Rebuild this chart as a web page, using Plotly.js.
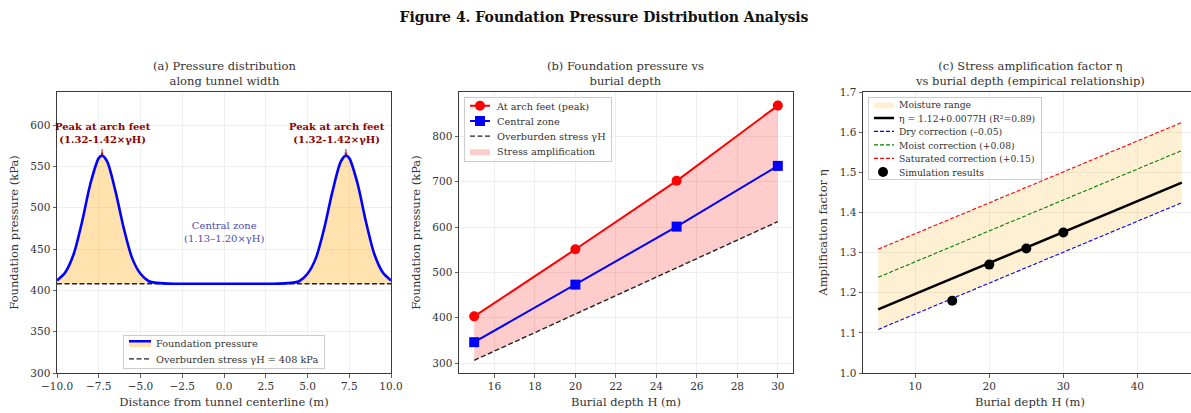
<!DOCTYPE html>
<html>
<head>
<meta charset="utf-8">
<script src="https://cdn.plot.ly/plotly-3.0.1.min.js"></script>
<style>
html,body{margin:0;padding:0;overflow:hidden;background:#fff;}
#chart{width:1200px;height:413px;}
</style>
</head>
<body>
<div id="chart"></div>
<script>
// ---------- Data ----------
// Panel (a): pressure distribution along tunnel width
const distX = [-10, -9.5, -9, -8.5, -8, -7.5, -7.3, -7, -6.5, -6, -5.5, -5, -4.5, -4, -3, -2, -1, 0, 1, 2, 3, 4, 4.5, 5, 5.5, 6, 6.5, 7, 7.3, 7.5, 8, 8.5, 9, 9.5, 10];
const pressure = [412, 422, 444, 483, 529, 560, 563, 556, 520, 475, 439, 420, 411, 409, 408, 408, 408, 408, 408, 408, 408, 409, 411, 420, 439, 475, 520, 556, 563, 560, 529, 483, 444, 422, 412];
const overburdenX = [-10, 10];
const overburdenA = [408, 408];
const peakX = [-7.3, 7.3];
const peakY = [563, 563];

// Panel (b): foundation pressure vs burial depth
const depthH = [15, 20, 25, 30];
const archPeak = [403, 551, 702, 868];
const centralZone = [346, 473, 601, 735];
const overburdenB = [306, 408, 510, 612];

// Panel (c): amplification factor vs burial depth
const fitH = [5, 46];
const etaFit = [1.1585, 1.4742];
const etaDry = [1.1085, 1.4242];
const etaMoist = [1.2385, 1.5542];
const etaSat = [1.3085, 1.6242];
const simH = [15, 20, 25, 30];
const simEta = [1.18, 1.27, 1.31, 1.35];

// ---------- Layout helpers ----------
const W = 1200, H = 413;
const fx = p => p / W;
const fy = p => 1 - p / H;
const FONT = "DejaVu Serif, Liberation Serif, serif";
const TXT = "#333";
const TFONT = {family: FONT, size: 11.5, color: TXT};

function axisBase(extra) {
  return Object.assign({
    showline: true, mirror: true, linecolor: "#3a3a3a", linewidth: 1,
    ticks: "outside", ticklen: 3.5, tickwidth: 0.8, tickcolor: "#3a3a3a",
    showgrid: true, gridcolor: "#ebebeb", gridwidth: 0.8,
    zeroline: false, tickfont: {family: FONT, size: 10.5, color: TXT},
    automargin: false
  }, extra);
}

const traces = [
  // ---- Panel (a) ----
  {x: overburdenX, y: overburdenA, xaxis: "x", yaxis: "y", mode: "lines",
   name: "Overburden stress γH = 408 kPa", legend: "legend", legendrank: 2,
   line: {color: "#222", width: 1.4, dash: "5px,2.5px"}},
  {x: distX, y: pressure, xaxis: "x", yaxis: "y", mode: "lines",
   name: "Foundation pressure", legend: "legend", legendrank: 1,
   line: {color: "#0000ff", width: 2.6, shape: "spline", smoothing: 0.8},
   fill: "tonexty", fillcolor: "rgba(255,165,0,0.32)"},

  // ---- Panel (b) ----
  {x: depthH, y: overburdenB, xaxis: "x2", yaxis: "y2", mode: "lines", showlegend: false,
   hoverinfo: "skip", line: {width: 0, color: "rgba(0,0,0,0)"}},
  {x: depthH, y: archPeak, xaxis: "x2", yaxis: "y2", mode: "lines",
   name: "Stress amplification", legend: "legend2", legendrank: 4,
   line: {width: 0, color: "rgba(255,0,0,0.2)"}, fill: "tonexty", fillcolor: "rgba(255,0,0,0.2)"},
  {x: depthH, y: overburdenB, xaxis: "x2", yaxis: "y2", mode: "lines",
   name: "Overburden stress γH", legend: "legend2", legendrank: 3,
   line: {color: "#222", width: 1.4, dash: "5px,2.5px"}},
  {x: depthH, y: centralZone, xaxis: "x2", yaxis: "y2", mode: "lines+markers",
   name: "Central zone", legend: "legend2", legendrank: 2,
   line: {color: "#0000ff", width: 2}, marker: {symbol: "square", size: 10, color: "#0000ff"}},
  {x: depthH, y: archPeak, xaxis: "x2", yaxis: "y2", mode: "lines+markers",
   name: "At arch feet (peak)", legend: "legend2", legendrank: 1,
   line: {color: "#ff0000", width: 2}, marker: {symbol: "circle", size: 10, color: "#ff0000"}},

  // ---- Panel (c) ----
  {x: fitH, y: etaDry, xaxis: "x3", yaxis: "y3", mode: "lines", showlegend: false,
   hoverinfo: "skip", line: {width: 0, color: "rgba(0,0,0,0)"}},
  {x: fitH, y: etaSat, xaxis: "x3", yaxis: "y3", mode: "lines",
   name: "Moisture range", legend: "legend3", legendrank: 1,
   line: {width: 0, color: "rgba(255,165,0,0.17)"}, fill: "tonexty", fillcolor: "rgba(255,165,0,0.17)"},
  {x: fitH, y: etaFit, xaxis: "x3", yaxis: "y3", mode: "lines",
   name: "η = 1.12+0.0077H (R²=0.89)", legend: "legend3", legendrank: 2,
   line: {color: "#000", width: 2.5}},
  {x: fitH, y: etaDry, xaxis: "x3", yaxis: "y3", mode: "lines",
   name: "Dry correction (–0.05)", legend: "legend3", legendrank: 3,
   line: {color: "#0000ff", width: 1.1, dash: "4px,2px"}},
  {x: fitH, y: etaMoist, xaxis: "x3", yaxis: "y3", mode: "lines",
   name: "Moist correction (+0.08)", legend: "legend3", legendrank: 4,
   line: {color: "#008000", width: 1.1, dash: "4px,2px"}},
  {x: fitH, y: etaSat, xaxis: "x3", yaxis: "y3", mode: "lines",
   name: "Saturated correction (+0.15)", legend: "legend3", legendrank: 5,
   line: {color: "#ff0000", width: 1.1, dash: "4px,2px"}},
  {x: simH, y: simEta, xaxis: "x3", yaxis: "y3", mode: "markers",
   name: "Simulation results", legend: "legend3", legendrank: 6,
   marker: {symbol: "circle", size: 10, color: "#000"}}
];

const legendBase = {
  bgcolor: "rgba(255,255,255,0.85)", bordercolor: "#cccccc", borderwidth: 1,
  font: {family: FONT, size: 9.7, color: TXT}, tracegroupgap: 0, itemwidth: 30,
  traceorder: "normal"
};

const layout = {
  width: W, height: H,
  margin: {l: 0, r: 0, t: 0, b: 0},
  paper_bgcolor: "#fff", plot_bgcolor: "#fff",
  font: {family: FONT, size: 10, color: TXT},
  title: {text: "<b>Figure 4. Foundation Pressure Distribution Analysis</b>",
          x: fx(604), xanchor: "center", y: fy(17), yanchor: "middle",
          font: {family: FONT, size: 14, color: "#111"}},
  xaxis: axisBase({domain: [fx(57), fx(391)], anchor: "y", range: [-10, 10], dtick: 2.5, tick0: 0, tickformat: ".1f",
    title: {text: "Distance from tunnel centerline (m)", font: TFONT, standoff: 6}}),
  yaxis: axisBase({domain: [fy(373), fy(92)], anchor: "x", range: [300, 640], dtick: 50,
    title: {text: "Foundation pressure (kPa)", font: TFONT, standoff: 9}}),
  xaxis2: axisBase({domain: [fx(459), fx(793)], anchor: "y2", range: [14.25, 30.75], dtick: 2, tick0: 0,
    title: {text: "Burial depth H (m)", font: TFONT, standoff: 6}}),
  yaxis2: axisBase({domain: [fy(373), fy(92)], anchor: "x2", range: [278, 898], dtick: 100,
    title: {text: "Foundation pressure (kPa)", font: TFONT, standoff: 9}}),
  xaxis3: axisBase({domain: [fx(863), fx(1197)], anchor: "y3", range: [2.95, 48.05], dtick: 10, tick0: 0,
    title: {text: "Burial depth H (m)", font: TFONT, standoff: 6}}),
  yaxis3: axisBase({domain: [fy(373), fy(92)], anchor: "x3", range: [1.0, 1.7], dtick: 0.1, tickformat: ".1f",
    title: {text: "Amplification factor η", font: TFONT, standoff: 9}}),
  legend: Object.assign({}, legendBase, {x: fx(224), xanchor: "center", y: fy(368), yanchor: "bottom"}),
  legend2: Object.assign({}, legendBase, {x: fx(464), xanchor: "left", y: fy(97), yanchor: "top"}),
  legend3: Object.assign({}, legendBase, {x: fx(868), xanchor: "left", y: fy(97), yanchor: "top",
    font: {family: FONT, size: 9.2, color: TXT}}),
  annotations: [
    {text: "(a) Pressure distribution<br>along tunnel width", xref: "paper", yref: "paper",
     x: fx(224), y: fy(74), xanchor: "center", yanchor: "middle", showarrow: false, font: TFONT},
    {text: "(b) Foundation pressure vs<br>burial depth", xref: "paper", yref: "paper",
     x: fx(626), y: fy(74), xanchor: "center", yanchor: "middle", showarrow: false, font: TFONT},
    {text: "(c) Stress amplification factor η<br>vs burial depth (empirical relationship)", xref: "paper", yref: "paper",
     x: fx(1030), y: fy(74), xanchor: "center", yanchor: "middle", showarrow: false, font: TFONT},
    {text: "<b>Peak at arch feet<br>(1.32-1.42×γH)</b>", xref: "x", yref: "y", x: -7.25, y: 591,
     xanchor: "center", yanchor: "middle", showarrow: false, font: {family: FONT, size: 10, color: "#8b0000"}},
    {text: "<b>Peak at arch feet<br>(1.32-1.42×γH)</b>", xref: "x", yref: "y", x: 6.75, y: 591,
     xanchor: "center", yanchor: "middle", showarrow: false, font: {family: FONT, size: 10, color: "#8b0000"}},
    {text: "", xref: "x", yref: "y", x: peakX[0], y: peakY[0], showarrow: true, ax: 0, ay: -8,
     arrowhead: 2, arrowsize: 0.6, arrowwidth: 1, arrowcolor: "#b00000", standoff: 0},
    {text: "", xref: "x", yref: "y", x: peakX[1], y: peakY[1], showarrow: true, ax: 0, ay: -8,
     arrowhead: 2, arrowsize: 0.6, arrowwidth: 1, arrowcolor: "#b00000", standoff: 0},
    {text: "Central zone<br>(1.13–1.20×γH)", xref: "x", yref: "y", x: 0, y: 471,
     xanchor: "center", yanchor: "middle", showarrow: false, font: {family: FONT, size: 10, color: "rgb(77,77,174)"}}
  ]
};

// ---- compact legend rows (matplotlib-like spacing) ----
function shiftTransform(el, dx, dy) {
  const tf = el.getAttribute("transform") || "";
  const m = tf.match(/translate\(\s*([-\d.e]+)[\s,]+([-\d.e]+)\s*\)/);
  let x = 0, y = 0;
  if (m) { x = +m[1]; y = +m[2]; }
  const rest = tf.replace(/translate\([^)]*\)/, "");
  el.setAttribute("transform", "translate(" + (x + dx) + "," + (y + dy) + ")" + rest);
}
function fixLegend(cls, opt) {
  try {
    const g = document.querySelector("g.infolayer > g." + cls) || document.querySelector("g." + cls);
    if (!g) return;
    const bg = g.querySelector("rect.bg");
    if (!bg) return;
    const r0 = bg.getBoundingClientRect();
    shiftTransform(g, opt.centered ? opt.shift / 2 : 0, opt.top - r0.top);
    const items = Array.from(g.querySelectorAll("g.traces"));
    const info = items.map(it => {
      const t = it.querySelector("text");
      const tr = t.getBoundingClientRect();
      return {it, t, cy: tr.top + tr.height / 2};
    }).sort((a, b) => a.cy - b.cy);
    info.forEach((o, i) => {
      const want = opt.top + opt.off + i * opt.rowH;
      shiftTransform(o.it, 0, want - o.cy);
      const tx = parseFloat(o.t.getAttribute("x") || "40");
      o.t.setAttribute("x", tx - opt.shift);
      o.t.querySelectorAll("tspan[x]").forEach(s => s.setAttribute("x", parseFloat(s.getAttribute("x")) - opt.shift));
      o.it.querySelectorAll("path").forEach(p => {
        if (p.classList.contains("scatterpts")) {
          p.setAttribute("transform", "translate(" + opt.markerX + ",0)");
        } else {
          const d = p.getAttribute("d");
          if (d) p.setAttribute("d", d.replace(/h(-?)30/g, (m0, s) => "h" + s + opt.symLen));
        }
      });
    });
    bg.setAttribute("height", opt.off + (info.length - 1) * opt.rowH + opt.offB);
    bg.setAttribute("width", parseFloat(bg.getAttribute("width")) - opt.shift);
  } catch (e) { /* keep default legend */ }
}

Plotly.newPlot("chart", traces, layout, {displayModeBar: false, staticPlot: true}).then(() => {
  fixLegend("legend", {top: 335, off: 8.5, rowH: 15.7, offB: 9, shift: 8, symLen: 22, markerX: 16, centered: true});
  fixLegend("legend2", {top: 97, off: 9, rowH: 15.2, offB: 9.5, shift: 8, symLen: 20, markerX: 15});
  fixLegend("legend3", {top: 97, off: 7.5, rowH: 13.5, offB: 7.5, shift: 10, symLen: 20, markerX: 14});
});
</script>
</body>
</html>
